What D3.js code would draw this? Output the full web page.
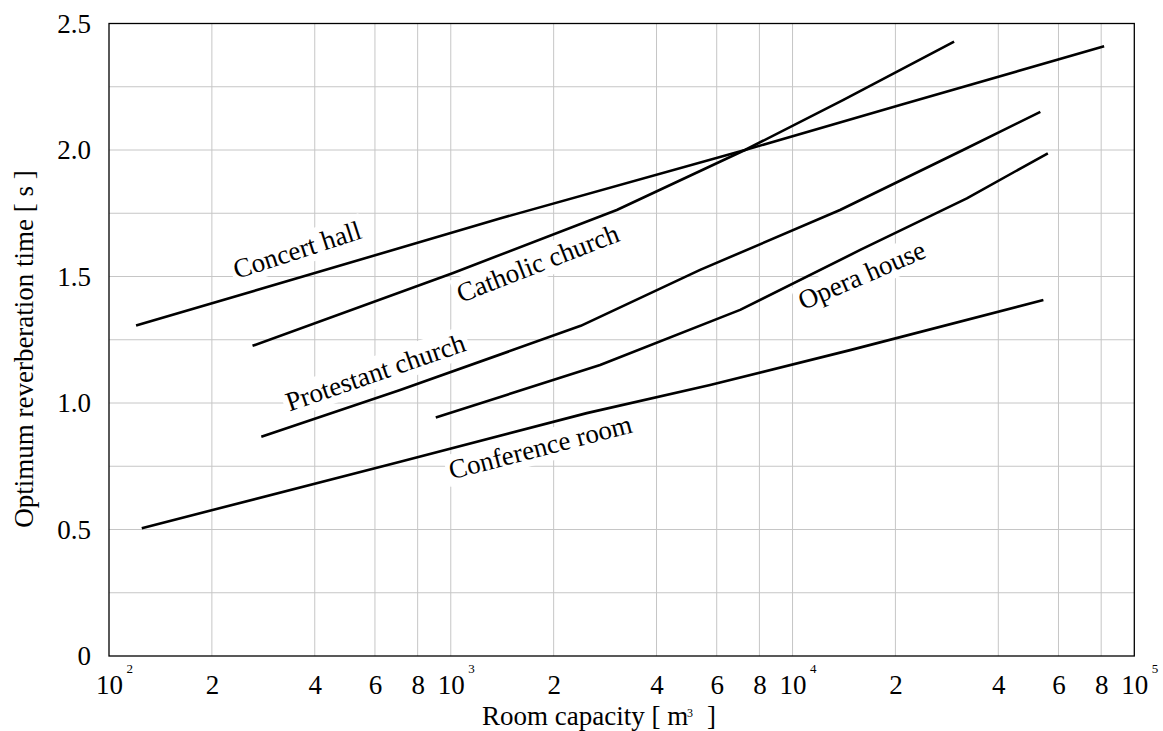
<!DOCTYPE html>
<html>
<head>
<meta charset="utf-8">
<script src="https://cdn.jsdelivr.net/npm/d3@7/dist/d3.min.js"></script>
<style>
  html, body { margin: 0; padding: 0; background: #fff; }
  svg { display: block; }
  text { font-family: "Liberation Serif", "Times New Roman", serif; fill: #000; }
</style>
</head>
<body>
<svg id="chart" width="1163" height="731"></svg>
<script>
// ---- data (room volume in m^3, optimum reverberation time in s) ----
const categories = ["Concert hall", "Catholic church", "Protestant church", "Opera house", "Conference room"];
const concertHall      = [[120, 1.306], [1400, 1.73], [7260, 2.0], [20650, 2.178], [81600, 2.41]];
const catholicChurch   = [[263, 1.226], [1016, 1.514], [3060, 1.763], [7260, 2.0], [14090, 2.198], [29700, 2.428]];
const protestantChurch = [[279, 0.867], [711, 1.051], [2400, 1.305], [5365, 1.526], [13770, 1.763], [31550, 2.0], [53100, 2.151]];
const operaHouse       = [[904, 0.943], [2735, 1.15], [7025, 1.368], [15780, 1.605], [32360, 1.809], [55850, 1.987]];
const conferenceRoom   = [[124.7, 0.505], [711, 0.768], [2500, 0.96], [5740, 1.071], [14740, 1.209], [54200, 1.407]];
const seriesValues = [concertHall, catholicChurch, protestantChurch, operaHouse, conferenceRoom];

// label anchors (data space) and rotation
const labelAnchors = [[362, 1.571], [1837, 1.519], [614, 1.087], [16320, 1.472], [1857, 0.791]];
const labelAngles = [-18, -21.3, -19, -23.2, -14.6];

const xTickValues = [100, 200, 400, 600, 800, 1000, 2000, 4000, 6000, 8000, 10000, 20000, 40000, 60000, 80000, 100000];
const xGridValues = [200, 400, 600, 800, 1000, 2000, 4000, 6000, 8000, 10000, 20000, 40000, 60000, 80000];
const yTickValues = [0, 0.5, 1.0, 1.5, 2.0, 2.5];
const yGridValues = [0.25, 0.5, 0.75, 1.0, 1.25, 1.5, 1.75, 2.0, 2.25];

// ---- layout ----
const svg = d3.select("#chart");
const mLeft = 109, mRight = 1134.3, mTop = 23.5, mBottom = 656;

const x = d3.scaleLog().domain([100, 100000]).range([mLeft, mRight]);
const y = d3.scaleLinear().domain([0, 2.5]).range([mBottom, mTop]);

// grid
const grid = svg.append("g");
grid.selectAll("line.vg").data(xGridValues).join("line")
  .attr("class", "vg")
  .attr("x1", d => x(d)).attr("x2", d => x(d))
  .attr("y1", mTop).attr("y2", mBottom)
  .attr("stroke", "#c6c6c6").attr("stroke-width", 1);
grid.selectAll("line.hg").data(yGridValues).join("line")
  .attr("class", "hg")
  .attr("x1", mLeft).attr("x2", mRight)
  .attr("y1", d => y(d)).attr("y2", d => y(d))
  .attr("stroke", "#c6c6c6").attr("stroke-width", 1);

// label background boxes (filled once text measured)
const boxLayer = svg.append("g");

// lines
const line = d3.line().x(d => x(d[0])).y(d => y(d[1]));
svg.append("g").selectAll("path").data(seriesValues).join("path")
  .attr("d", line)
  .attr("fill", "none")
  .attr("stroke", "#000")
  .attr("stroke-width", 2.6)
  .attr("stroke-linejoin", "round");

// labels
const labelLayer = svg.append("g");
categories.forEach((name, i) => {
  const tr = `translate(${x(labelAnchors[i][0])},${y(labelAnchors[i][1])}) rotate(${labelAngles[i]})`;
  const g = labelLayer.append("g").attr("transform", tr);
  const t = g.append("text")
    .attr("text-anchor", "middle")
    .attr("font-size", 27)
    .text(name);
  const bb = t.node().getBBox();
  boxLayer.append("rect")
    .attr("transform", tr)
    .attr("x", bb.x - 3).attr("y", bb.y - 1)
    .attr("width", bb.width + 6).attr("height", bb.height + 2)
    .attr("fill", "#fff");
});

// frame
svg.append("rect")
  .attr("x", mLeft).attr("y", mTop)
  .attr("width", mRight - mLeft).attr("height", mBottom - mTop)
  .attr("fill", "none").attr("stroke", "#000").attr("stroke-width", 1.3);

// x axis
const powers = { 100: "2", 1000: "3", 10000: "4", 100000: "5" };
const xAxis = d3.axisBottom(x).tickValues(xTickValues).tickSize(0)
  .tickFormat(d => powers[d] ? "10" : String(Math.round(d / Math.pow(10, Math.floor(Math.log10(d) + 1e-9)))));
const gx = svg.append("g").attr("transform", `translate(0,${mBottom})`).call(xAxis);
gx.select(".domain").remove();
gx.selectAll(".tick text")
  .attr("y", 38).attr("dy", null)
  .attr("font-size", 27).attr("font-family", "Liberation Serif").attr("fill", "#000");
gx.selectAll(".tick").filter(d => powers[d]).append("text")
  .attr("x", 17).attr("y", 17)
  .attr("text-anchor", "start")
  .attr("font-size", 13).attr("font-family", "Liberation Serif").attr("fill", "#000")
  .text(d => powers[d]);

// y axis
const yAxis = d3.axisLeft(y).tickValues(yTickValues).tickSize(0).tickPadding(18)
  .tickFormat(d => d === 0 ? "0" : d.toFixed(1));
const gy = svg.append("g").attr("transform", `translate(${mLeft},0)`).call(yAxis);
gy.select(".domain").remove();
gy.selectAll(".tick text")
  .attr("font-size", 27).attr("font-family", "Liberation Serif").attr("fill", "#000");

// axis titles
svg.append("text").attr("x", 482).attr("y", 725).attr("font-size", 27).text("Room capacity [ m");
svg.append("text").attr("x", 687).attr("y", 716.5).attr("font-size", 12).text("3");
svg.append("text").attr("x", 707).attr("y", 725).attr("font-size", 27).text("]");
svg.append("text")
  .attr("transform", "translate(33,349) rotate(-90)")
  .attr("text-anchor", "middle")
  .attr("font-size", 27)
  .text("Optimum reverberation time [ s ]");
</script>
</body>
</html>
